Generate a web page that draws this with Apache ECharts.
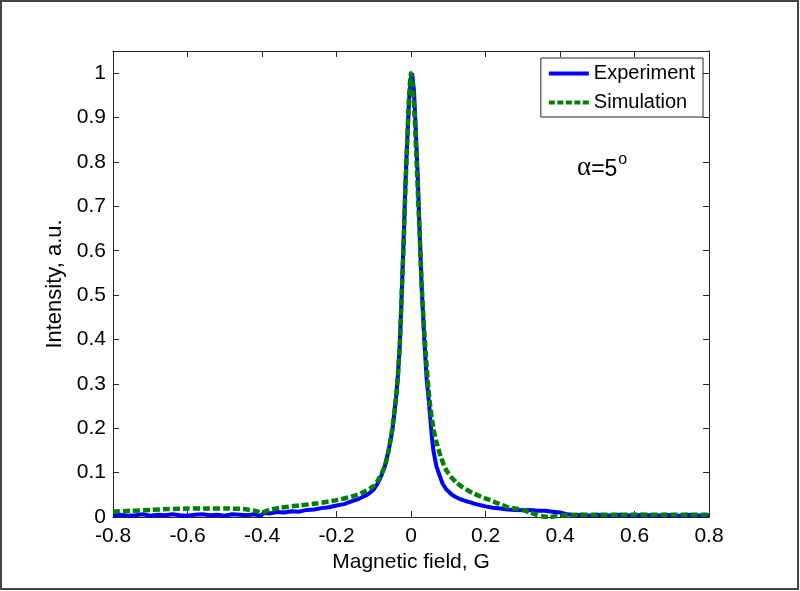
<!DOCTYPE html>
<html>
<head>
<meta charset="utf-8">
<script src="https://cdn.jsdelivr.net/npm/echarts@6/dist/echarts.min.js"></script>
<style>
  html, body { margin: 0; padding: 0; background: #ffffff; }
  #chart { width: 800px; height: 591px; }
</style>
</head>
<body>
<div id="chart"></div>
<script>
// magnetic field, G
const fieldExp = [
  -0.8, -0.78, -0.76, -0.74, -0.72, -0.7, -0.68, -0.66, -0.64, -0.62,
  -0.6, -0.58, -0.56, -0.54, -0.52, -0.5, -0.48, -0.46, -0.44, -0.42,
  -0.405, -0.395, -0.38, -0.36, -0.34, -0.32, -0.3, -0.28, -0.26, -0.24,
  -0.22, -0.2, -0.18, -0.16, -0.14, -0.12, -0.11, -0.1, -0.09, -0.08,
  -0.07, -0.06, -0.05, -0.04, -0.035, -0.03, -0.025, -0.02, -0.015, -0.01,
  -0.005, 0, 0.003, 0.008, 0.013, 0.018, 0.023, 0.028, 0.035, 0.042,
  0.048, 0.055, 0.06, 0.068, 0.077, 0.085, 0.095, 0.11, 0.12, 0.13,
  0.14, 0.15, 0.16, 0.17, 0.18, 0.19, 0.2, 0.22, 0.24, 0.26,
  0.28, 0.3, 0.32, 0.34, 0.36, 0.38, 0.4, 0.42, 0.44, 0.46,
  0.48, 0.5, 0.52, 0.54, 0.56, 0.58, 0.6, 0.62, 0.64, 0.66,
  0.68, 0.7, 0.72, 0.74, 0.76, 0.78, 0.8
]
const intensityExp = [
  0.003, 0.005, 0.003, 0.004, 0.006, 0.003, 0.005, 0.004, 0.006, 0.004,
  0.003, 0.005, 0.006, 0.004, 0.005, 0.003, 0.006, 0.005, 0.004, 0.006,
  0.002, 0.009, 0.008, 0.011, 0.01, 0.013, 0.012, 0.016, 0.017, 0.02,
  0.022, 0.026, 0.029, 0.035, 0.041, 0.049, 0.055, 0.062, 0.075, 0.092,
  0.115, 0.15, 0.195, 0.27, 0.32, 0.39, 0.5, 0.62, 0.75, 0.85,
  0.94, 0.99, 1.0, 0.96, 0.87, 0.77, 0.65, 0.53, 0.41, 0.31,
  0.26, 0.19, 0.15, 0.115, 0.093, 0.075, 0.062, 0.05, 0.045, 0.041,
  0.038, 0.035, 0.033, 0.03, 0.028, 0.026, 0.024, 0.021, 0.019, 0.017,
  0.016, 0.015, 0.016, 0.014, 0.014, 0.012, 0.01, 0.006, 0.004, 0.005,
  0.003, 0.005, 0.004, 0.003, 0.005, 0.004, 0.003, 0.005, 0.004, 0.003,
  0.005, 0.004, 0.003, 0.005, 0.004, 0.003, 0.004
]

const fieldSim = [
  -0.8, -0.75, -0.7, -0.65, -0.6, -0.55, -0.5, -0.45, -0.42, -0.4,
  -0.38, -0.35, -0.3, -0.25, -0.2, -0.16, -0.13, -0.1, -0.085, -0.07,
  -0.06, -0.05, -0.04, -0.035, -0.03, -0.025, -0.02, -0.015, -0.01, -0.005,
  0, 0.005, 0.01, 0.015, 0.02, 0.025, 0.03, 0.04, 0.05, 0.06,
  0.068, 0.08, 0.095, 0.11, 0.123, 0.14, 0.166, 0.19, 0.212, 0.235,
  0.257, 0.28, 0.3, 0.32, 0.337, 0.355, 0.373, 0.39, 0.41, 0.45,
  0.5, 0.6, 0.7, 0.8
]
const intensitySim = [
  0.012, 0.014, 0.016, 0.018, 0.019, 0.019, 0.019, 0.018, 0.014, 0.01,
  0.016, 0.021, 0.026, 0.031, 0.038, 0.046, 0.055, 0.07, 0.088, 0.115,
  0.15, 0.2, 0.27, 0.32, 0.39, 0.5, 0.61, 0.74, 0.85, 0.95,
  1.0, 0.97, 0.9, 0.8, 0.7, 0.6, 0.5, 0.36, 0.26, 0.2,
  0.17, 0.135, 0.105, 0.088, 0.077, 0.066, 0.054, 0.045, 0.038, 0.03,
  0.023, 0.019, 0.016, 0.01, 0.005, 0.001, 0, 0.002, 0.004, 0.005,
  0.005, 0.005, 0.005, 0.005
]

const xTicks = [-0.8, 0.8, 0.2]
const yTicks = [0, 1.05, 0.1]

const font = "'Liberation Sans', Arial, sans-serif"
const axisColor = '#262626'

// legend keys: solid bar and dashed bar
const solidIcon = 'path://M0,0H40V4H0Z'
const dashIcon = 'path://M0,0H6V4H0Z M8.5,0H14.5V4H8.5Z M17,0H23V4H17Z M25.5,0H31.5V4H25.5Z M34,0H40V4H34Z'

const chart = echarts.init(document.getElementById('chart'))

const baseX = {
  type: 'value',
  min: xTicks[0],
  max: xTicks[1],
  interval: xTicks[2],
  splitLine: { show: false },
  axisLine: { onZero: false, lineStyle: { color: axisColor, width: 1 } },
  axisTick: { inside: true, length: 6, lineStyle: { color: axisColor } },
}
const baseY = {
  type: 'value',
  min: yTicks[0],
  max: yTicks[1],
  interval: yTicks[2],
  splitLine: { show: false },
  axisLine: { onZero: false, lineStyle: { color: axisColor, width: 1 } },
  axisTick: { inside: true, length: 6, lineStyle: { color: axisColor } },
}

const option = {
  backgroundColor: '#ffffff',
  animation: false,
  grid: { left: 113, right: 91, top: 51, bottom: 74 },
  xAxis: [
    {
      ...baseX,
      position: 'bottom',
      name: 'Magnetic field, G',
      nameLocation: 'middle',
      nameGap: 34,
      nameTextStyle: { fontFamily: font, fontSize: 21, color: '#000' },
      axisLabel: { fontFamily: font, fontSize: 21, color: '#000', margin: 9 },
    },
    { ...baseX, position: 'top', axisLabel: { show: false } },
  ],
  yAxis: [
    {
      ...baseY,
      position: 'left',
      name: 'Intensity, a.u.',
      nameLocation: 'middle',
      nameGap: 40,
      nameTextStyle: { fontFamily: font, fontSize: 22, color: '#000' },
      axisLabel: { fontFamily: font, fontSize: 21, color: '#000', margin: 7, showMaxLabel: false },
    },
    { ...baseY, position: 'right', axisLabel: { show: false } },
  ],
  legend: {
    orient: 'vertical',
    right: 97,
    top: 58,
    backgroundColor: '#ffffff',
    borderColor: axisColor,
    borderWidth: 1,
    borderRadius: 0,
    padding: [4, 8, 3, 8],
    itemWidth: 40,
    itemHeight: 4,
    itemGap: 6,
    textStyle: { fontFamily: font, fontSize: 20, color: '#000', lineHeight: 23 },
    data: [
      { name: 'Experiment', icon: solidIcon },
      { name: 'Simulation', icon: dashIcon },
    ],
  },
  graphic: [
    {
      type: 'rect',
      shape: { x: 1, y: 1, width: 797, height: 588 },
      style: { fill: 'none', stroke: '#444', lineWidth: 2 },
    },
    {
      type: 'text',
      left: 577,
      top: 152,
      style: {
        text: '{a|α}{b|=5}{s|o}',
        rich: {
          a: { fontFamily: "'Liberation Serif', 'Times New Roman', serif", fontSize: 27, fill: '#000', verticalAlign: 'bottom' },
          b: { fontFamily: font, fontSize: 23, fill: '#000', verticalAlign: 'bottom' },
          s: { fontFamily: font, fontSize: 16, fill: '#000', verticalAlign: 'top', padding: [0, 0, 13, 1] },
        },
      },
    },
  ],
  series: [
    {
      name: 'Experiment',
      type: 'line',
      symbol: 'none',
      data: fieldExp.map((x, i) => [x, intensityExp[i]]),
      lineStyle: { color: '#0000ff', width: 4 },
      itemStyle: { color: '#0000ff' },
    },
    {
      name: 'Simulation',
      type: 'line',
      symbol: 'none',
      smooth: 0.2,
      data: fieldSim.map((x, i) => [x, intensitySim[i]]),
      lineStyle: { color: '#008000', width: 4.5, type: [7, 3] },
      itemStyle: { color: '#008000' },
    },
  ],
}

chart.setOption(option)
</script>
</body>
</html>
